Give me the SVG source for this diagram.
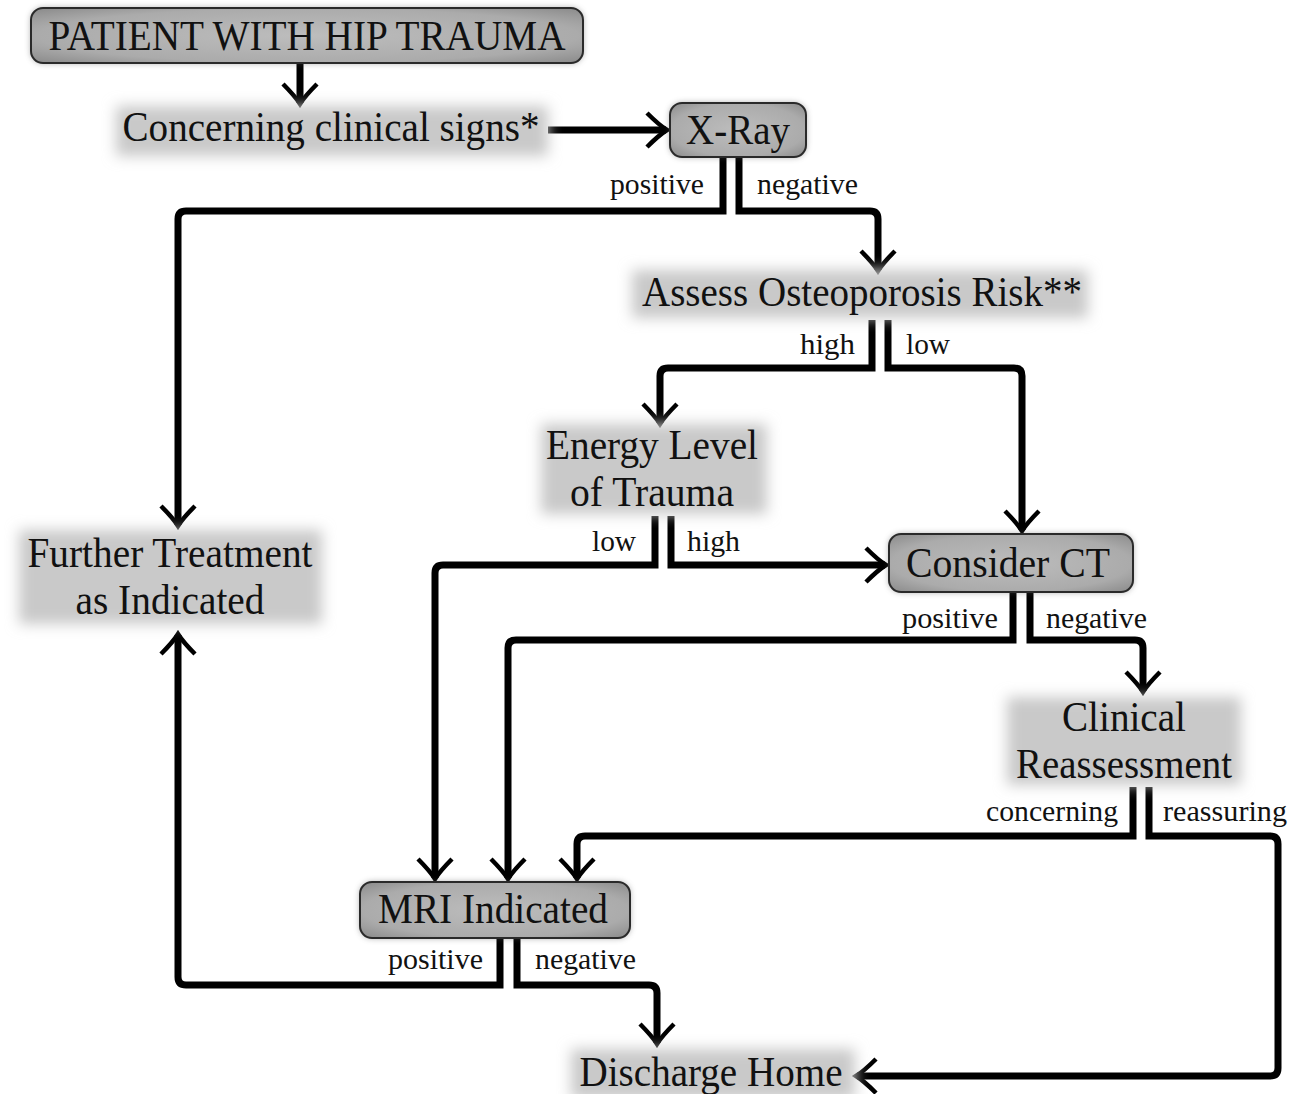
<svg xmlns="http://www.w3.org/2000/svg" width="1289" height="1094" viewBox="0 0 1289 1094">
<defs>
<style>
.t{font-family:"Liberation Serif","Times New Roman",serif;font-size:42px;fill:#111;text-anchor:middle}
.l{font-family:"Liberation Serif","Times New Roman",serif;font-size:29px;fill:#111}
.conn{fill:none;stroke:#000;stroke-width:7;stroke-linejoin:miter}
.shade{fill:#c9c9c9;filter:url(#soft)}
.halo{fill:#555;opacity:.55;filter:url(#halo)}
.box{fill:url(#g);stroke:#2a2a2a;stroke-width:2}
</style>
<filter id="soft" x="-20%" y="-50%" width="140%" height="200%"><feGaussianBlur stdDeviation="7"/></filter>
<filter id="halo" x="-20%" y="-50%" width="140%" height="200%"><feGaussianBlur stdDeviation="3"/></filter>
<radialGradient id="g" cx="50%" cy="50%" r="70%"><stop offset="0" stop-color="#bdbdbd"/><stop offset="0.7" stop-color="#ababab"/><stop offset="1" stop-color="#8a8a8a"/></radialGradient>
<marker id="ah" markerUnits="userSpaceOnUse" markerWidth="50" markerHeight="50" viewBox="-25 -25 50 50" refX="0" refY="0" orient="auto" overflow="visible">
<path d="M-19,-17 Q-7,-5 1,0 Q-7,5 -19,17" fill="none" stroke="#000" stroke-width="4.5"/>
</marker>
</defs>
<rect width="1289" height="1094" fill="#fff"/>

<g id="connectors">
<path class="conn" marker-end="url(#ah)" d="M300,63 V103"/>
<path class="conn" marker-end="url(#ah)" d="M548,130 H666"/>
<path class="conn" marker-end="url(#ah)" d="M723,157 V211 H186 Q178,211 178,219 V525"/>
<path class="conn" marker-end="url(#ah)" d="M739,157 V211 H870 Q878,211 878,219 V270"/>
<path class="conn" marker-end="url(#ah)" d="M872,320 V368 H668 Q660,368 660,376 V423"/>
<path class="conn" marker-end="url(#ah)" d="M888,320 V368 H1014 Q1022,368 1022,376 V530"/>
<path class="conn" marker-end="url(#ah)" d="M655,516 V565 H443 Q435,565 435,573 V878"/>
<path class="conn" marker-end="url(#ah)" d="M671,516 V565 H885"/>
<path class="conn" marker-end="url(#ah)" d="M1013,593 V640 H516 Q508,640 508,648 V878"/>
<path class="conn" marker-end="url(#ah)" d="M1030,593 V640 H1135 Q1143,640 1143,648 V691"/>
<path class="conn" marker-end="url(#ah)" d="M1133,787 V836 H585 Q577,836 577,844 V878"/>
<path class="conn" marker-end="url(#ah)" d="M1149,787 V836 H1270 Q1278,836 1278,844 V1068 Q1278,1076 1270,1076 H857"/>
<path class="conn" marker-end="url(#ah)" d="M500,938 V985 H186 Q178,985 178,977 V635"/>
<path class="conn" marker-end="url(#ah)" d="M517,938 V985 H649 Q657,985 657,993 V1043"/>
</g>

<g id="labels">
<text class="l" x="610" y="194" textLength="94" lengthAdjust="spacingAndGlyphs">positive</text>
<text class="l" x="757" y="194" textLength="101" lengthAdjust="spacingAndGlyphs">negative</text>
<text class="l" x="800" y="354" textLength="55" lengthAdjust="spacingAndGlyphs">high</text>
<text class="l" x="906" y="354" textLength="44" lengthAdjust="spacingAndGlyphs">low</text>
<text class="l" x="592" y="551" textLength="44" lengthAdjust="spacingAndGlyphs">low</text>
<text class="l" x="687" y="551" textLength="53" lengthAdjust="spacingAndGlyphs">high</text>
<text class="l" x="902" y="628" textLength="96" lengthAdjust="spacingAndGlyphs">positive</text>
<text class="l" x="1046" y="628" textLength="101" lengthAdjust="spacingAndGlyphs">negative</text>
<text class="l" x="986" y="821" textLength="132" lengthAdjust="spacingAndGlyphs">concerning</text>
<text class="l" x="1163" y="821" textLength="124" lengthAdjust="spacingAndGlyphs">reassuring</text>
<text class="l" x="388" y="969" textLength="95" lengthAdjust="spacingAndGlyphs">positive</text>
<text class="l" x="535" y="969" textLength="101" lengthAdjust="spacingAndGlyphs">negative</text>
</g>

<g id="n-patient">
<rect class="halo" x="31" y="8" width="552" height="55" rx="12"/>
<rect class="box" x="31" y="8" width="552" height="55" rx="12"/>
<text class="t" x="307" y="50" textLength="517" lengthAdjust="spacingAndGlyphs">PATIENT WITH HIP TRAUMA</text>
</g>
<g id="n-concerning">
<rect class="shade" x="116" y="106" width="432" height="50"/>
<text class="t" x="331" y="141" textLength="417" lengthAdjust="spacingAndGlyphs">Concerning clinical signs*</text>
</g>
<g id="n-xray">
<rect class="halo" x="670" y="103" width="136" height="54" rx="12"/>
<rect class="box" x="670" y="103" width="136" height="54" rx="12"/>
<text class="t" x="738" y="144" textLength="104" lengthAdjust="spacingAndGlyphs">X-Ray</text>
</g>
<g id="n-assess">
<rect class="shade" x="632" y="270" width="456" height="48"/>
<text class="t" x="862" y="306" textLength="440" lengthAdjust="spacingAndGlyphs">Assess Osteoporosis Risk**</text>
</g>
<g id="n-energy">
<rect class="shade" x="541" y="424" width="226" height="90"/>
<text class="t" x="652" y="459" textLength="212" lengthAdjust="spacingAndGlyphs">Energy Level</text>
<text class="t" x="652" y="506" textLength="164" lengthAdjust="spacingAndGlyphs">of Trauma</text>
</g>
<g id="n-further">
<rect class="shade" x="19" y="530" width="303" height="94"/>
<text class="t" x="170" y="567" textLength="285" lengthAdjust="spacingAndGlyphs">Further Treatment</text>
<text class="t" x="170" y="614" textLength="189" lengthAdjust="spacingAndGlyphs">as Indicated</text>
</g>
<g id="n-ct">
<rect class="halo" x="889" y="534" width="244" height="58" rx="12"/>
<rect class="box" x="889" y="534" width="244" height="58" rx="12"/>
<text class="t" x="1008" y="577" textLength="204" lengthAdjust="spacingAndGlyphs">Consider CT</text>
</g>
<g id="n-clinical">
<rect class="shade" x="1007" y="697" width="234" height="88"/>
<text class="t" x="1124" y="731" textLength="124" lengthAdjust="spacingAndGlyphs">Clinical</text>
<text class="t" x="1124" y="778" textLength="216" lengthAdjust="spacingAndGlyphs">Reassessment</text>
</g>
<g id="n-mri">
<rect class="halo" x="360" y="882" width="270" height="56" rx="12"/>
<rect class="box" x="360" y="882" width="270" height="56" rx="12"/>
<text class="t" x="493" y="923" textLength="230" lengthAdjust="spacingAndGlyphs">MRI Indicated</text>
</g>
<g id="n-discharge">
<rect class="shade" x="571" y="1049" width="284" height="50"/>
<text class="t" x="711" y="1086" textLength="263" lengthAdjust="spacingAndGlyphs">Discharge Home</text>
</g>
</svg>
